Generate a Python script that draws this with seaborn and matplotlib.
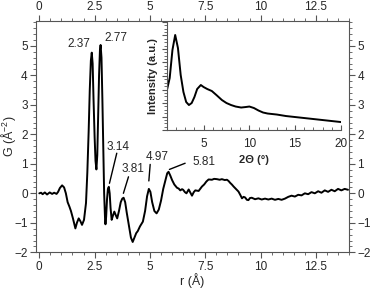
import matplotlib

matplotlib.use("Agg")
import matplotlib.pyplot as plt
import numpy as np
import pandas as pd
import seaborn as sns
from matplotlib.ticker import MultipleLocator

# pair distribution function G(r)
r = [0.0, 0.08, 0.15, 0.25, 0.35, 0.47, 0.58, 0.67, 0.78, 0.85, 0.93, 1.03, 1.12, 1.2,
     1.28, 1.36, 1.43, 1.52, 1.63, 1.7, 1.78, 1.86, 1.93, 2.02, 2.11, 2.17, 2.23, 2.28,
     2.33, 2.37, 2.41, 2.45, 2.5, 2.54, 2.58, 2.62, 2.66, 2.7, 2.74, 2.77, 2.81, 2.85,
     2.89, 2.93, 2.97, 2.99, 3.02, 3.06, 3.1, 3.14, 3.18, 3.22, 3.27, 3.33, 3.39, 3.46,
     3.52, 3.6, 3.68, 3.75, 3.81, 3.88, 3.95, 4.05, 4.14, 4.22, 4.3, 4.38, 4.45, 4.55,
     4.68, 4.78, 4.87, 4.95, 5.02, 5.1, 5.2, 5.3, 5.4, 5.5, 5.6, 5.7, 5.78, 5.84, 5.92,
     6.0, 6.1, 6.22, 6.3, 6.37, 6.45, 6.5, 6.58, 6.65, 6.75, 6.83, 6.9, 6.98, 7.05, 7.2,
     7.35, 7.45, 7.55, 7.65, 7.8, 7.9, 8.03, 8.15, 8.25, 8.38, 8.48, 8.55, 8.63, 8.7,
     8.78, 8.9, 9.0, 9.08, 9.16, 9.23, 9.3, 9.38, 9.45, 9.52, 9.6, 9.75, 9.9, 10.05,
     10.2, 10.35, 10.5, 10.65, 10.8, 10.95, 11.1, 11.25, 11.4, 11.55, 11.7, 11.85, 12.0,
     12.15, 12.3, 12.45, 12.6, 12.75, 12.9, 13.05, 13.2, 13.35, 13.5, 13.65, 13.8, 13.95]
G = [0.0, 0.02, -0.03, 0.03, -0.04, 0.03, -0.02, 0.02, -0.02, 0.05, 0.18, 0.27, 0.2, 0.0,
     -0.3, -0.45, -0.6, -0.85, -1.19, -1.0, -0.85, -0.95, -1.07, -0.9, -0.33, 0.7, 2.1, 3.5,
     4.5, 4.77, 4.4, 3.2, 1.9, 1.1, 0.81, 1.3, 2.6, 4.0, 4.85, 5.03, 4.6, 3.2,
     1.5, 0.0, -0.85, -1.05, -0.8, -0.2, 0.15, 0.22, 0.0, -0.5, -0.9, -0.75, -0.62, -0.75,
     -0.85, -0.6, -0.3, -0.18, -0.15, -0.3, -0.65, -1.1, -1.5, -1.65, -1.5, -1.35, -1.28, -1.12,
     -0.96, -0.6, -0.1, 0.15, 0.05, -0.3, -0.6, -0.68, -0.55, -0.25, 0.15, 0.45, 0.68, 0.73, 0.6,
     0.45, 0.3, 0.19, 0.16, 0.1, 0.14, 0.12, 0.04, 0.0, 0.13, 0.02, -0.08, 0.04, 0.1, 0.08,
     0.23, 0.3, 0.4, 0.47, 0.46, 0.49, 0.48, 0.46, 0.48, 0.45, 0.46, 0.42, 0.35, 0.3,
     0.23, 0.14, 0.06, -0.05, -0.17, -0.12, -0.14, -0.22, -0.23, -0.16, -0.15, -0.2, -0.17, -0.21,
     -0.18, -0.21, -0.18, -0.22, -0.19, -0.22, -0.18, -0.12, -0.08, -0.11, -0.05, -0.07, 0.0,
     -0.03, 0.04, 0.0, 0.07, 0.02, 0.1, 0.05, 0.12, 0.07, 0.15, 0.1, 0.15, 0.12]

# XRD pattern (inset)
two_theta = [1.0, 1.3, 1.6, 1.9, 2.2, 2.5, 2.8, 3.1, 3.4, 3.7, 4.0, 4.3, 4.7, 5.0, 5.4,
             5.9, 6.4, 7.0, 7.5, 8.0, 8.5, 9.1, 9.6, 10.0, 10.5, 11.0, 11.5, 12.0, 13.0,
             14.0, 15.0, 16.0, 17.0, 18.0, 19.0, 20.0]
intensity = [40, 52, 80, 95, 82, 55, 38, 28, 25, 27, 33, 41, 45, 43, 41,
             39, 35, 30, 27, 25, 23.5, 22.5, 23, 23.5, 22, 19.5, 17.5, 16.5, 15.5,
             14, 13, 12, 11, 10, 9, 8]

# peak labels: text, text position, leader line start/end
peak_text = ["2.37", "2.77", "3.14", "3.81", "4.97", "5.81"]
peak_xy = [(1.81, 5.08), (3.47, 5.25), (3.58, 1.58), (4.22, 0.82), (5.31, 1.24), (7.42, 1.07)]
peak_line = [None, None, ((3.50, 1.36), (3.17, 0.34)), ((4.03, 0.56), (3.80, 0.0)),
             ((5.01, 0.98), (4.95, 0.42)), ((6.59, 1.02), (5.88, 0.81))]

sns.set_style("ticks")
plt.rcParams["font.family"] = ["Liberation Sans", "DejaVu Sans"]
plt.rcParams["mathtext.fontset"] = "custom"
plt.rcParams["mathtext.rm"] = "Liberation Sans"

fig = plt.figure(figsize=(3.71, 2.89), dpi=100)
ax = fig.add_axes([0.097, 0.127, 0.844, 0.800])
sns.lineplot(data=pd.DataFrame({"r": r, "G": G}), x="r", y="G", color="black",
             linewidth=1.4, ax=ax, sort=False)
ax.set_xlim(-0.15, 14.0)
ax.set_ylim(-2, 5.84)
ax.xaxis.set_minor_locator(MultipleLocator(0.5))
ax.yaxis.set_major_locator(MultipleLocator(1))
ax.yaxis.set_minor_locator(MultipleLocator(0.2))
ax.set_xticks(np.arange(0, 13, 2.5))
ax.set_xticklabels(["0", "2.5", "5", "7.5", "10", "12.5"])
ax.tick_params(which="both", top=True, right=True, labeltop=True, labelright=True,
               direction="out", color="#555555", labelsize=8.5, pad=2)
ax.tick_params(which="major", length=4, width=0.8)
ax.tick_params(which="minor", length=2.5, width=0.6)
for s in ax.spines.values():
    s.set_color("#555555")
    s.set_linewidth(0.8)
ax.set_xlabel("r (Å)", fontsize=9, labelpad=0)
ax.set_ylabel("G (Å$^{-2}$)", fontsize=9)
ax.yaxis.set_label_coords(-0.058, 0.5)

for txt, xy, ln in zip(peak_text, peak_xy, peak_line):
    ax.text(xy[0], xy[1], txt, fontsize=8.5, ha="center", va="center")
    if ln is not None:
        ax.plot([ln[0][0], ln[1][0]], [ln[0][1], ln[1][1]], color="black", linewidth=1.0)

# inset
ins = fig.add_axes([0.450, 0.550, 0.469, 0.374])
sns.lineplot(data=pd.DataFrame({"tt": two_theta, "I": intensity}), x="tt", y="I",
             color="black", linewidth=1.4, ax=ins)
ins.set_xlim(1, 20)
ins.set_ylim(0, 108)
ins.patch.set_alpha(0)
ins.spines["top"].set_visible(False)
ins.spines["right"].set_visible(False)
for s in ("left", "bottom"):
    ins.spines[s].set_color("#555555")
    ins.spines[s].set_linewidth(0.8)
ins.xaxis.set_major_locator(MultipleLocator(5))
ins.xaxis.set_minor_locator(MultipleLocator(1))
ins.yaxis.set_major_locator(MultipleLocator(13.5))
ins.yaxis.set_minor_locator(MultipleLocator(3.375))
ins.set_yticklabels([])
ins.tick_params(axis="x", which="both", direction="in", color="#555555", labelsize=8.5, pad=6)
ins.tick_params(axis="y", which="both", direction="out", color="#555555", labelleft=False)
ins.tick_params(which="major", length=3.5, width=0.8)
ins.tick_params(which="minor", length=2, width=0.6)
ins.set_xlabel("2Θ (°)", fontsize=8, fontweight="bold", labelpad=3)
ins.set_ylabel("Intensity (a.u.)", fontsize=8, fontweight="bold", labelpad=3)

fig.savefig("out.png", dpi=100)
